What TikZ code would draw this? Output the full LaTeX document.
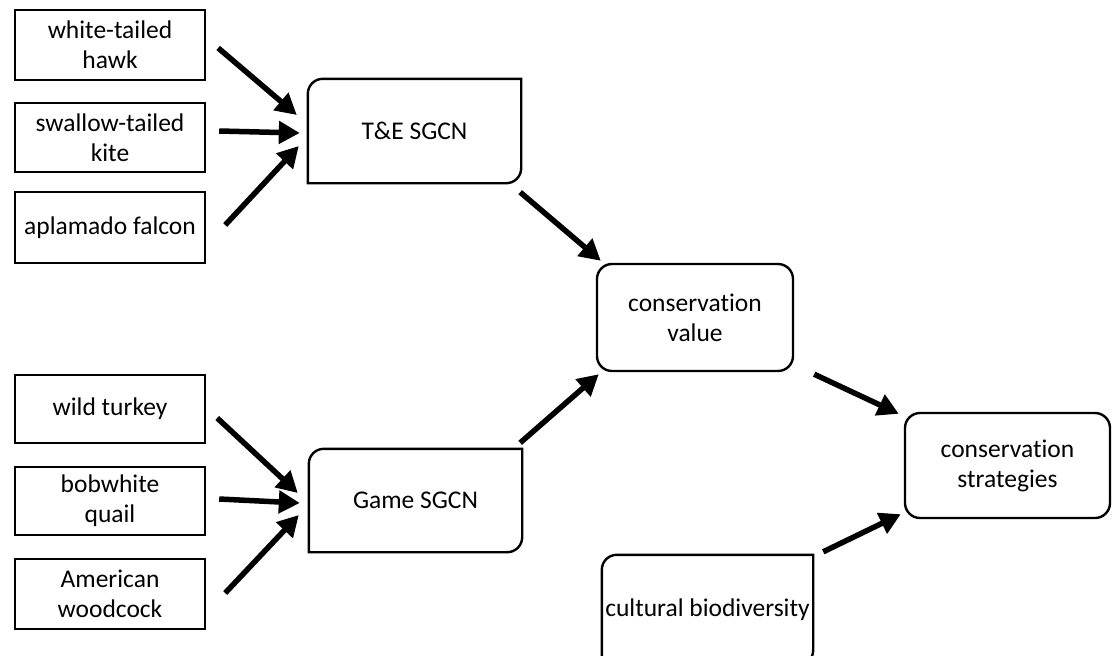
\documentclass[tikz,border=0pt]{standalone}
\usepackage{fontspec}
\setmainfont{Carlito}[Ligatures=CommonOff]
\usetikzlibrary{arrows.meta,positioning}

% box with rounded top-left and bottom-right corners
\newcommand{\halfround}[1]{%
  \draw[box_line] (#1.north east)
    [rounded corners=15pt] -- (#1.south east)
    [sharp corners] -- (#1.south west)
    [rounded corners=15pt] -- (#1.north west)
    [sharp corners] -- cycle;}

\begin{document}
\begin{tikzpicture}[
    x=1pt, y=-1pt,
    box_line/.style={line width=2.4pt, draw=black},
    species/.style={box_line, draw, rectangle, minimum width=190pt, align=center,
                    inner sep=0pt, font=\fontsize{25.5}{30}\selectfont},
    group/.style={rectangle, minimum width=213pt, minimum height=104pt, align=center,
                  inner sep=0pt, font=\fontsize{25.5}{30}\selectfont},
    outcome/.style={box_line, draw, rectangle, rounded corners=15pt, align=center,
                    inner sep=0pt, font=\fontsize{25.5}{30}\selectfont},
    link/.style={line width=5.5pt, -{Triangle[length=21pt, width=22pt]}}
]
    \useasboundingbox (0,0) rectangle (1112,656);

    \node[species, minimum height=70pt] (hawk) at (110,45) {white-tailed\\hawk};
    \node[species, minimum height=69pt] (kite) at (110,137.5) {swallow-tailed\\kite};
    \node[species, minimum height=71pt] (falcon) at (110,227.5) {aplamado falcon};
    \node[species, minimum height=68pt] (turkey) at (110,409) {wild turkey};
    \node[species, minimum height=68pt] (quail) at (110,501) {bobwhite\\quail};
    \node[species, minimum height=70pt] (woodcock) at (110,594) {American\\woodcock};

    \node[group] (tesgcn) at (414.5,131) {T\&E SGCN};
    \node[group, minimum height=103pt] (gamesgcn) at (415.5,500.5) {Game SGCN};
    \node[group, minimum width=211pt, minimum height=110pt] (cultural) at (707.5,610) {cultural biodiversity};
    \halfround{tesgcn}
    \halfround{gamesgcn}
    \halfround{cultural}

    \node[outcome, minimum width=196pt, minimum height=107pt] (value) at (695,317.5) {conservation\\value};
    \node[outcome, minimum width=205pt, minimum height=105pt] (strategies) at (1007.5,465.5) {conservation\\strategies};

    \draw[link] ([shift={(12,3)}]hawk.east) -- ([shift={(-11,-16)}]tesgcn.west);
    \draw[link] ([shift={(13,-6.5)}]kite.east) -- ([shift={(-8,2)}]tesgcn.west);
    \draw[link] ([shift={(19,-2.5)}]falcon.east) -- ([shift={(-9,15)}]tesgcn.west);

    \draw[link] ([shift={(11,9)}]turkey.east) -- ([shift={(-11,-7.5)}]gamesgcn.west);
    \draw[link] ([shift={(13,-2)}]quail.east) -- ([shift={(-9,2.5)}]gamesgcn.west);
    \draw[link] ([shift={(19,-1)}]woodcock.east) -- ([shift={(-10,14.5)}]gamesgcn.west);

    \draw[link] ([shift={(-1,9)}]tesgcn.south east) -- ([shift={(5,-2)}]value.north west);
    \draw[link] ([shift={(-2,-6)}]gamesgcn.north east) -- ([shift={(3,2)}]value.south west);
    \draw[link] ([shift={(20,2)}]value.south east) -- ([shift={(-5,2)}]strategies.north west);
    \draw[link] ([shift={(10,-3)}]cultural.north east) -- ([shift={(-3,-5)}]strategies.south west);
\end{tikzpicture}
\end{document}
